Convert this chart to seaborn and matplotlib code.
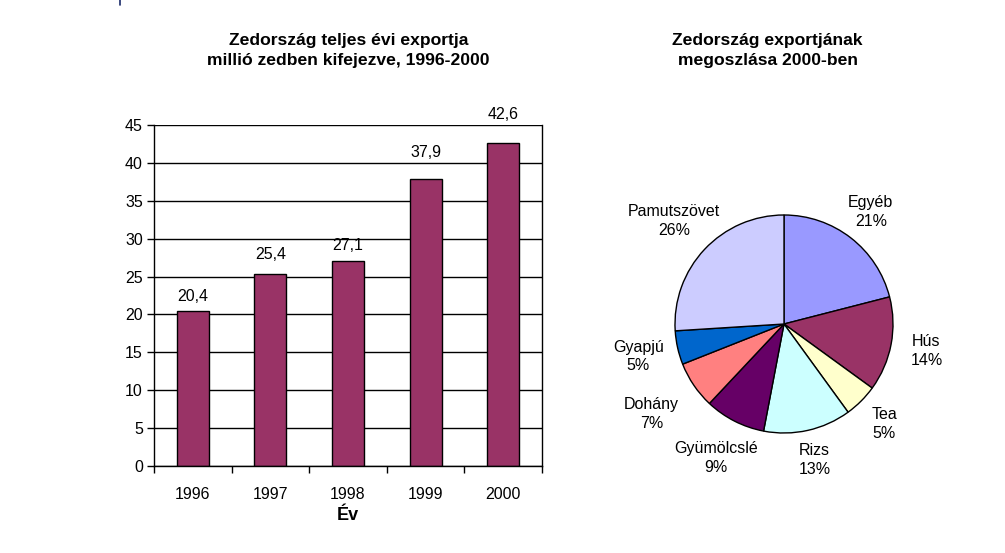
import matplotlib
matplotlib.use("Agg")
import matplotlib.pyplot as plt
import seaborn as sns
import pandas as pd
import numpy as np
from matplotlib.lines import Line2D

# --- data ---
years = ["1996", "1997", "1998", "1999", "2000"]
export_values = [20.4, 25.4, 27.1, 37.9, 42.6]

pie_labels = ["Egyéb", "Hús", "Tea", "Rizs", "Gyümölcslé", "Dohány", "Gyapjú", "Pamutszövet"]
pie_shares = [21, 14, 5, 13, 9, 7, 5, 26]
pie_colors = ["#9999FF", "#993366", "#FFFFCC", "#CCFFFF", "#660066", "#FF8080", "#0066CC", "#CCCCFF"]

sns.set_style("white")
plt.rcParams["font.family"] = ["Liberation Sans", "DejaVu Sans"]
plt.rcParams["text.color"] = "black"
plt.rcParams["xtick.color"] = "black"
plt.rcParams["ytick.color"] = "black"
plt.rcParams["axes.labelcolor"] = "black"

fig = plt.figure(figsize=(10.05, 5.53), dpi=100)

# --- bar chart ---
ax = fig.add_axes([154 / 1005, 1 - 466 / 553, 388 / 1005, 341 / 553])
df = pd.DataFrame({"Év": years, "Export": export_values})
sns.barplot(data=df, x="Év", y="Export", color="#993366", edgecolor="black",
            linewidth=1, width=0.41, saturation=1, ax=ax)
ax.set_ylim(0, 45)
ax.set_xlim(-0.5, 4.5)
ax.set_yticks(range(0, 46, 5))
ax.yaxis.grid(True, color="black", linewidth=1)
ax.set_axisbelow(True)
for s in ["left", "right", "bottom"]:
    ax.spines[s].set_visible(True)
    ax.spines[s].set_color("black")
    ax.spines[s].set_linewidth(1)
ax.spines["top"].set_visible(False)

ax.set_xticks([i - 0.5 for i in range(6)])
ax.set_xticklabels([])
ax.set_xticks(range(5), minor=True)
ax.set_xticklabels(years, minor=True)
ax.tick_params(axis="x", which="major", direction="out", length=5, width=1, color="black", bottom=True)
ax.tick_params(axis="x", which="minor", length=0, pad=15, labelsize=11.5)
ax.tick_params(axis="y", direction="out", length=5, width=1, color="black", left=True, labelsize=11.5, pad=3)

ax.set_xlabel("Év", fontsize=13, fontweight="bold", labelpad=4)
ax.set_ylabel("")

# value labels (offsets in px above bar top, as in the original)
label_offsets = [15, 19, 15, 26, 29]
for bar, v, off in zip(ax.patches, export_values, label_offsets):
    ax.annotate(f"{v:.1f}".replace(".", ","), (bar.get_x() + bar.get_width() / 2, bar.get_height()),
                xytext=(0, off * 0.72), textcoords="offset points", ha="center", va="center",
                fontsize=11.5, annotation_clip=False)

fig.text(349 / 1005, 1 - 40 / 553, "Zedország teljes évi exportja", ha="center", va="center",
         fontsize=12.6, fontweight="bold")
fig.text(348 / 1005, 1 - 61 / 553, "millió zedben kifejezve, 1996-2000", ha="center", va="center",
         fontsize=12.6, fontweight="bold")

# --- pie chart ---
r_px = 109
half = 1.5 * r_px
pax = fig.add_axes([(784 - half) / 1005, (553 - 324 - half) / 553, 2 * half / 1005, 2 * half / 553])
wedges, texts = pax.pie(pie_shares, colors=pie_colors, startangle=90, counterclock=False,
                        labels=[f"{l}\n{p}%" for l, p in zip(pie_labels, pie_shares)],
                        labeldistance=1.33,
                        wedgeprops=dict(edgecolor="black", linewidth=1),
                        textprops=dict(fontsize=11.5, linespacing=1.3))
label_dist = [1.30, 1.33, 1.30, 1.28, 1.38, 1.47, 1.37, 1.38]
for w, t, d in zip(wedges, texts, label_dist):
    ang = np.deg2rad((w.theta1 + w.theta2) / 2)
    t.set_position((d * np.cos(ang), d * np.sin(ang)))
    t.set_ha("center")
    t.set_va("center")
pax.set_xlim(-1.5, 1.5)
pax.set_ylim(-1.5, 1.5)
pax.set_aspect("equal")
pax.axis("off")

fig.text(767 / 1005, 1 - 40 / 553, "Zedország exportjának", ha="center", va="center",
         fontsize=12.6, fontweight="bold")
fig.text(768 / 1005, 1 - 61 / 553, "megoszlása 2000-ben", ha="center", va="center",
         fontsize=12.6, fontweight="bold")

# small mark at top edge
fig.add_artist(Line2D([119.5 / 1005, 119.5 / 1005], [1, 1 - 5 / 553], color="#1a2a6a", linewidth=1.2))

fig.savefig("out.png", dpi=100)
